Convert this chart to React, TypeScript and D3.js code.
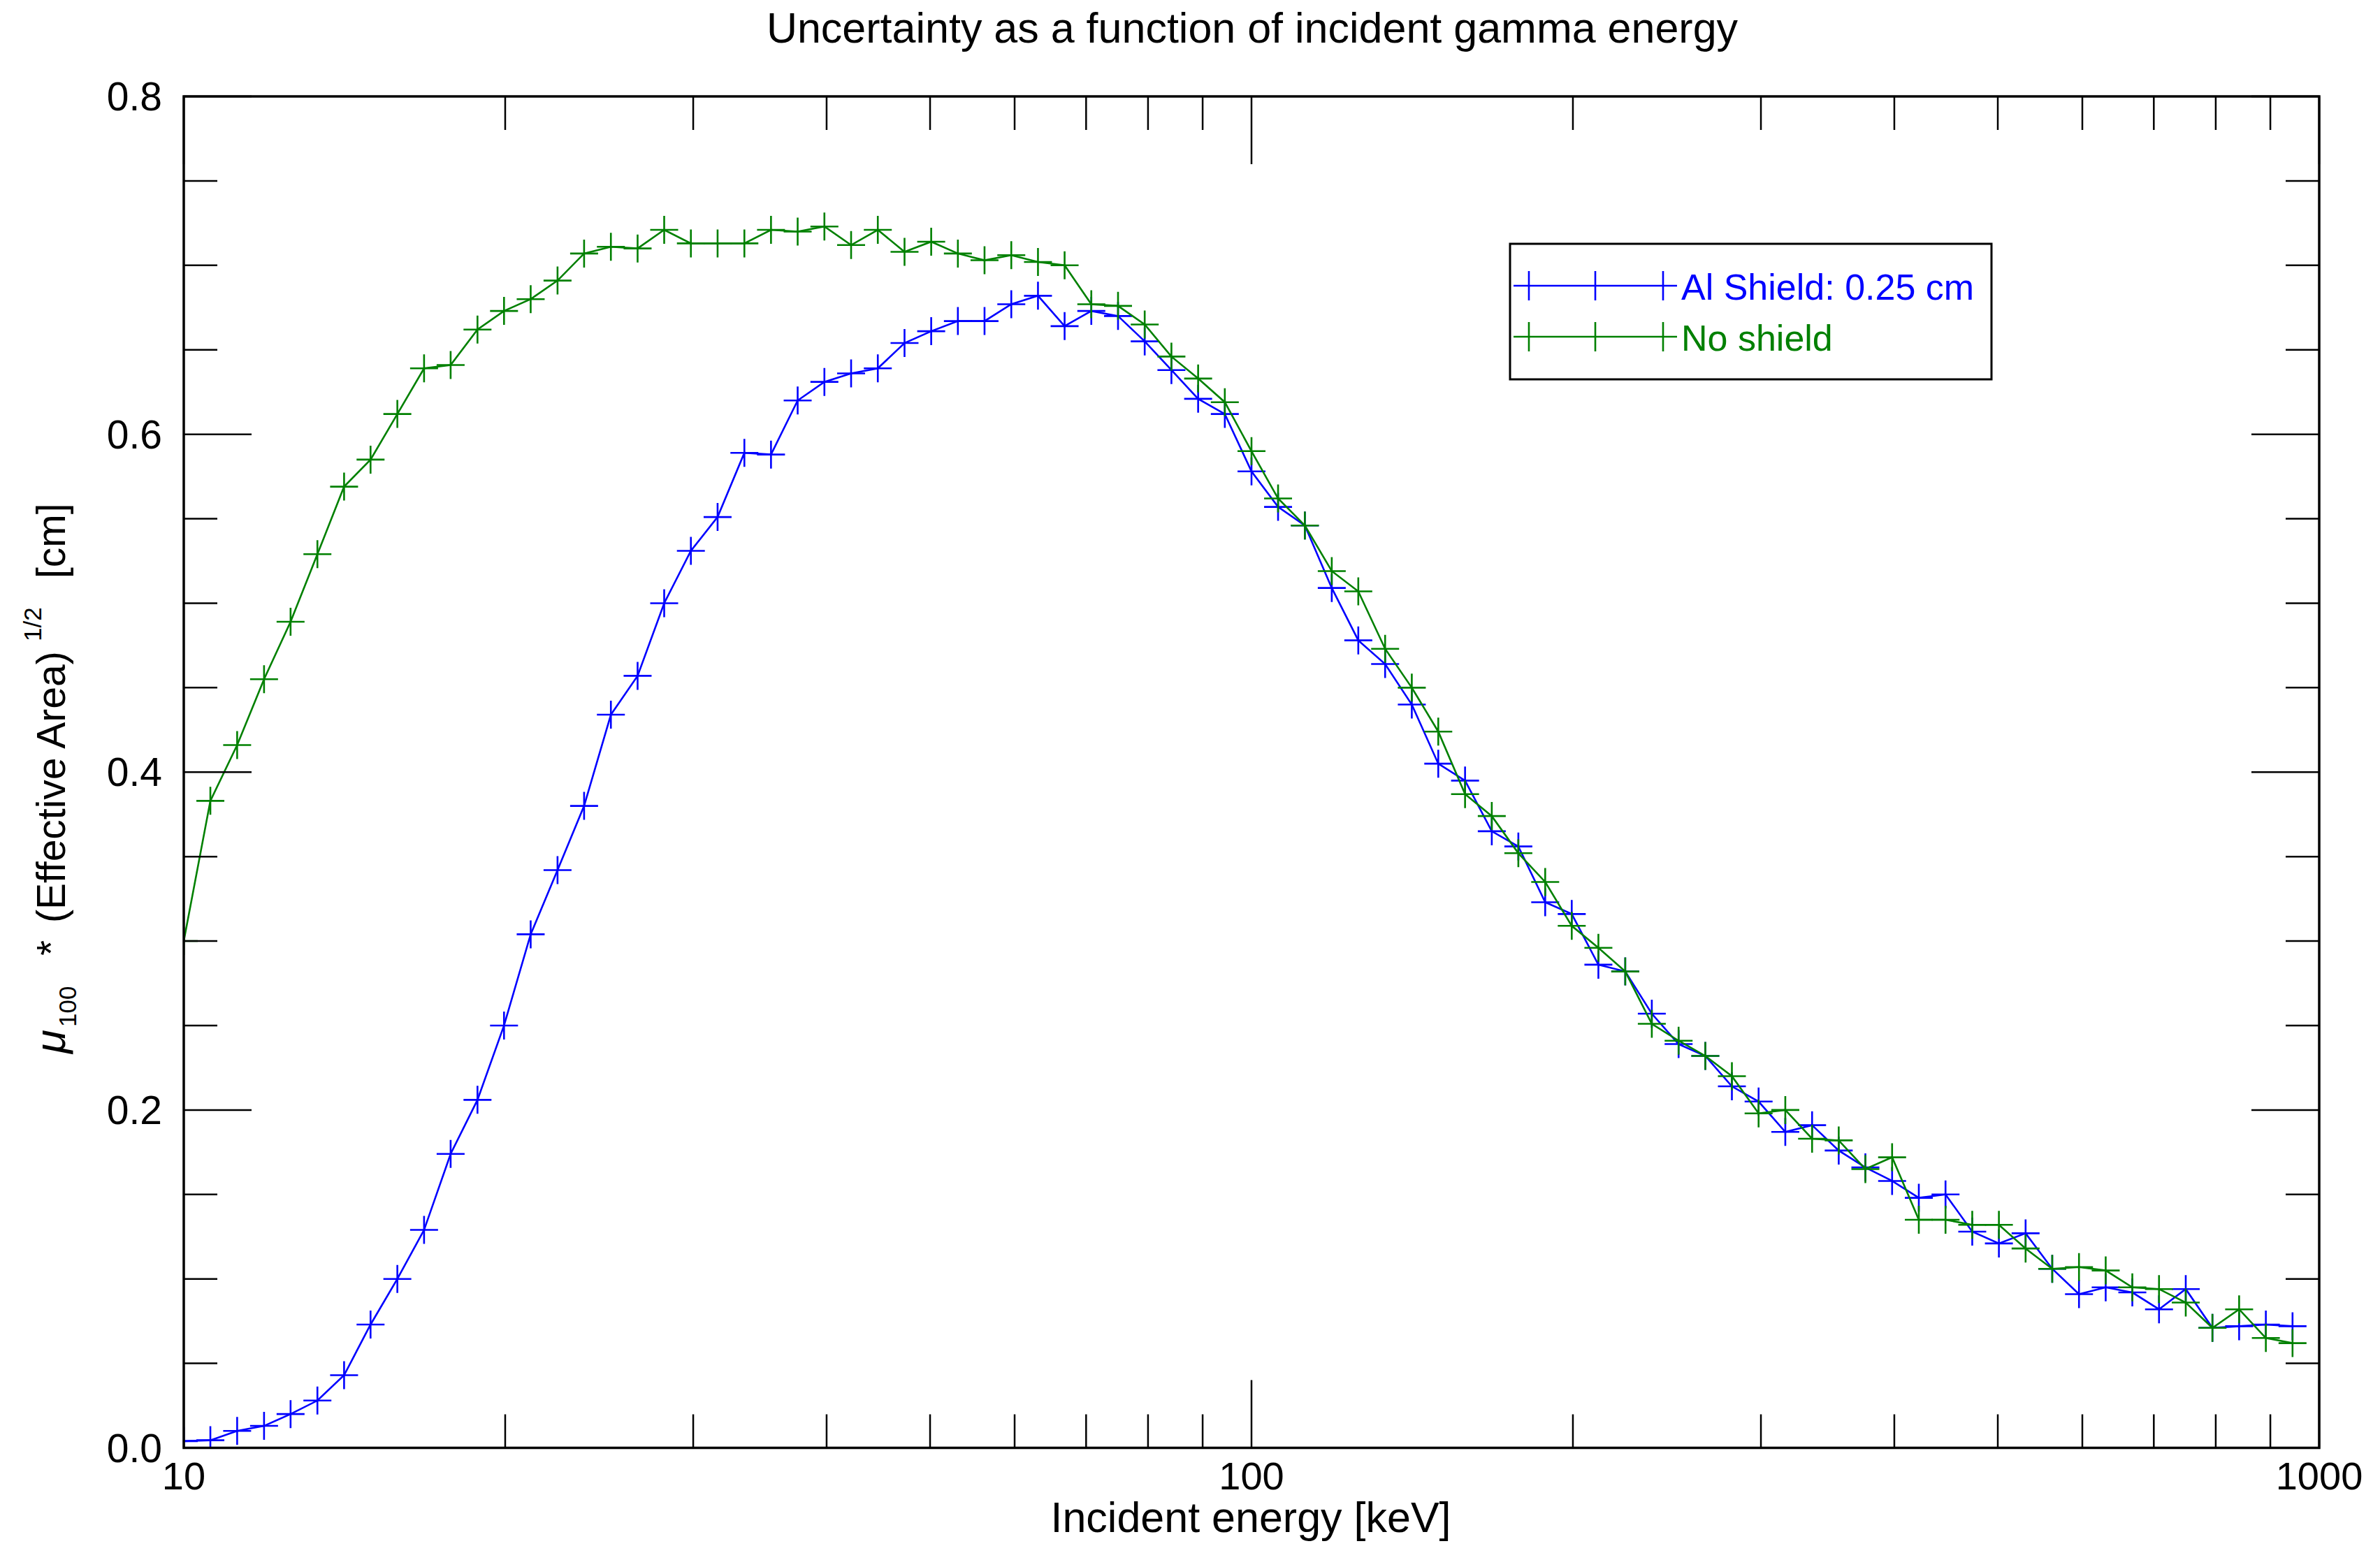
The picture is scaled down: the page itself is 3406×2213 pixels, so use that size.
import React from "react";
import * as d3 from "d3";

const energies: number[] = [
  10.0, 10.59, 11.22, 11.89, 12.59, 13.34, 14.13, 14.96, 15.85, 16.79,
  17.78, 18.84, 19.95, 21.13, 22.39, 23.71, 25.12, 26.61, 28.18, 29.85,
  31.62, 33.5, 35.48, 37.58, 39.81, 42.17, 44.67, 47.32, 50.12, 53.09,
  56.23, 59.57, 63.1, 66.83, 70.79, 74.99, 79.43, 84.14, 89.13, 94.41,
  100.0, 105.9, 112.2, 118.9, 125.9, 133.4, 141.3, 149.6, 158.5, 167.9,
  177.8, 188.4, 199.5, 211.3, 223.9, 237.1, 251.2, 266.1, 281.8, 298.5,
  316.2, 335.0, 354.8, 375.8, 398.1, 421.7, 446.7, 473.2, 501.2, 530.9,
  562.3, 595.7, 631.0, 668.3, 707.9, 749.9, 794.3, 841.4, 891.3, 944.1,
];

const alShield: number[] = [
  0.004, 0.0045, 0.01, 0.013, 0.02, 0.028, 0.043, 0.073, 0.1, 0.129,
  0.174, 0.206, 0.25, 0.304, 0.342, 0.38, 0.434, 0.457, 0.5, 0.531,
  0.551, 0.589, 0.588, 0.62, 0.631, 0.636, 0.639, 0.654, 0.661, 0.667,
  0.667, 0.677, 0.682, 0.664, 0.673, 0.67, 0.655, 0.638, 0.621, 0.612,
  0.578, 0.557, 0.546, 0.509, 0.478, 0.464, 0.44, 0.405, 0.395, 0.365,
  0.356, 0.323, 0.316, 0.286, 0.282, 0.257, 0.239, 0.232, 0.214, 0.205,
  0.187, 0.191, 0.176, 0.166, 0.158, 0.148, 0.15, 0.128, 0.121, 0.127,
  0.106, 0.091, 0.095, 0.092, 0.082, 0.094, 0.071, 0.072, 0.073, 0.072,
];

const noShield: number[] = [
  0.3, 0.383, 0.416, 0.455, 0.489, 0.529, 0.569, 0.585, 0.612, 0.639,
  0.641, 0.662, 0.673, 0.68, 0.691, 0.707, 0.711, 0.71, 0.721, 0.713,
  0.713, 0.713, 0.721, 0.72, 0.723, 0.712, 0.721, 0.708, 0.714, 0.707,
  0.703, 0.706, 0.702, 0.7, 0.677, 0.676, 0.665, 0.646, 0.633, 0.619,
  0.59, 0.562, 0.546, 0.519, 0.507, 0.473, 0.45, 0.424, 0.387, 0.374,
  0.352, 0.335, 0.309, 0.296, 0.282, 0.251, 0.241, 0.232, 0.22, 0.198,
  0.2, 0.183, 0.182, 0.165, 0.172, 0.135, 0.135, 0.132, 0.132, 0.118,
  0.106, 0.107, 0.105, 0.095, 0.094, 0.086, 0.071, 0.082, 0.065, 0.062,
];

const xMajorTicks: number[] = [10, 100, 1000];
const xMinorTicks: number[] = [20, 30, 40, 50, 60, 70, 80, 90, 200, 300, 400, 500, 600, 700, 800, 900];
const yMajorTicks: number[] = [0, 0.2, 0.4, 0.6, 0.8];
const yMinorTicks: number[] = [0.05, 0.1, 0.15, 0.25, 0.3, 0.35, 0.45, 0.5, 0.55, 0.65, 0.7, 0.75];

const seriesNames: string[] = ["Al Shield: 0.25 cm", "No shield"];
const seriesColors: string[] = ["#0000ff", "#008000"];

const W = 3406;
const H = 2213;
const X0 = 263;
const X1 = 3319;
const Y0 = 2072.5;
const Y1 = 138;
const FONT = "'Liberation Sans', Arial, Helvetica, sans-serif";

export default function App() {
  const x = d3.scaleLog().domain([10, 1000]).range([X0, X1]);
  const y = d3.scaleLinear().domain([0, 0.8]).range([Y0, Y1]);
  const line = d3
    .line<[number, number]>()
    .x((d) => x(d[0]))
    .y((d) => y(d[1]));

  const series = [alShield, noShield].map((vals) =>
    energies.map((e, i) => [e, vals[i]] as [number, number])
  );

  const MS = 20; // marker half size
  const majLen = 97;
  const minLen = 48;

  const fmt = d3.format(".1f");

  return (
    <svg
      width={W}
      height={H}
      style={{ position: "absolute", left: 0, top: 0, display: "block", background: "#fff" }}
      fontFamily={FONT}
    >
      <rect x={0} y={0} width={W} height={H} fill="#fff" />
      <defs>
        <clipPath id="plotclip">
          <rect x={X0} y={Y1} width={X1 - X0} height={Y0 - Y1} />
        </clipPath>
      </defs>

      {/* title */}
      <text x={1792} y={61} fontSize={61} textAnchor="middle" fill="#000">
        Uncertainty as a function of incident gamma energy
      </text>

      {/* data */}
      <g clipPath="url(#plotclip)">
        {series.map((pts, si) => (
          <g key={si} stroke={seriesColors[si]} strokeWidth={2.6} fill="none">
            <path d={line(pts) || ""} />
            {pts.map((p, i) => {
              const cx = x(p[0]);
              const cy = y(p[1]);
              return (
                <path
                  key={i}
                  d={`M${cx - MS},${cy}H${cx + MS}M${cx},${cy - MS}V${cy + MS}`}
                />
              );
            })}
          </g>
        ))}
      </g>

      {/* ticks */}
      <g stroke="#000" strokeWidth={2.5}>
        {xMajorTicks.map((t) => (
          <g key={"xM" + t}>
            <line x1={x(t)} x2={x(t)} y1={Y0} y2={Y0 - majLen} />
            <line x1={x(t)} x2={x(t)} y1={Y1} y2={Y1 + majLen} />
          </g>
        ))}
        {xMinorTicks.map((t) => (
          <g key={"xm" + t}>
            <line x1={x(t)} x2={x(t)} y1={Y0} y2={Y0 - minLen} />
            <line x1={x(t)} x2={x(t)} y1={Y1} y2={Y1 + minLen} />
          </g>
        ))}
        {yMajorTicks.map((t) => (
          <g key={"yM" + t}>
            <line x1={X0} x2={X0 + majLen} y1={y(t)} y2={y(t)} />
            <line x1={X1} x2={X1 - majLen} y1={y(t)} y2={y(t)} />
          </g>
        ))}
        {yMinorTicks.map((t) => (
          <g key={"ym" + t}>
            <line x1={X0} x2={X0 + minLen} y1={y(t)} y2={y(t)} />
            <line x1={X1} x2={X1 - minLen} y1={y(t)} y2={y(t)} />
          </g>
        ))}
      </g>

      {/* frame */}
      <rect
        x={X0}
        y={Y1}
        width={X1 - X0}
        height={Y0 - Y1}
        fill="none"
        stroke="#000"
        strokeWidth={3.5}
      />

      {/* tick labels */}
      <g fill="#000">
        {xMajorTicks.map((t) => (
          <text key={"xl" + t} x={x(t)} y={2132} fontSize={56} textAnchor="middle">
            {String(t)}
          </text>
        ))}
        {yMajorTicks.map((t) => (
          <text key={"yl" + t} x={232} y={y(t) + 20} fontSize={57} textAnchor="end">
            {fmt(t)}
          </text>
        ))}
      </g>

      {/* axis titles */}
      <text x={1790} y={2193} fontSize={61} textAnchor="middle" fill="#000">
        Incident energy [keV]
      </text>
      <text transform="translate(93,1508) rotate(-90)" fontSize={57} fill="#000">
        <tspan x={0} y={0} fontStyle="italic" fontSize={62}>μ</tspan>
        <tspan x={38} y={16} fontSize={35}>100</tspan>
        <tspan x={140} y={0}>*</tspan>
        <tspan x={187} y={0}>(Effective Area)</tspan>
        <tspan x={590} y={-34} fontSize={35}>1/2</tspan>
        <tspan x={680} y={0}>[cm]</tspan>
      </text>

      {/* legend */}
      <g>
        <rect x={2161} y={349} width={689} height={194} fill="#fff" stroke="#000" strokeWidth={3} />
        {seriesNames.map((name, i) => {
          const ly = 409 + i * 73;
          return (
            <g key={name}>
              <g stroke={seriesColors[i]} strokeWidth={2.6}>
                <line x1={2166} x2={2400} y1={ly} y2={ly} />
                {[2188, 2283, 2380].map((mx) => (
                  <line key={mx} x1={mx} x2={mx} y1={ly - 21} y2={ly + 21} />
                ))}
              </g>
              <text x={2406} y={ly + 20} fontSize={52} fill={seriesColors[i]}>
                {name}
              </text>
            </g>
          );
        })}
      </g>
    </svg>
  );
}
